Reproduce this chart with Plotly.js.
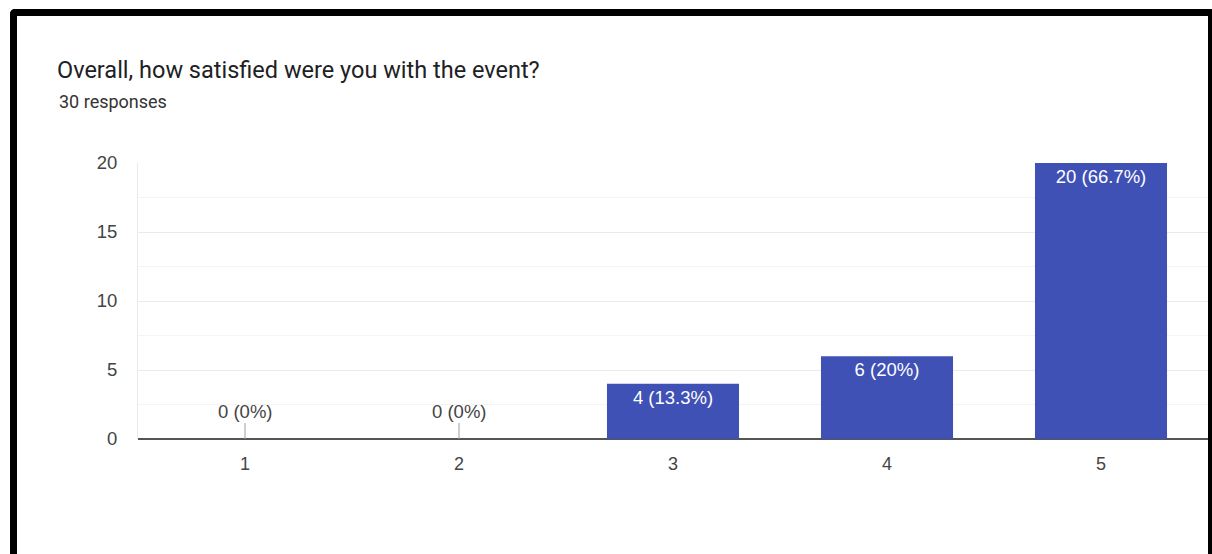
<!DOCTYPE html>
<html>
<head>
<meta charset="utf-8">
<script src="https://cdn.plot.ly/plotly-3.0.1.min.js"></script>
<style>
  html, body { margin: 0; padding: 0; width: 1212px; height: 554px; overflow: hidden; background: #ffffff; }
  #frame { position: absolute; left: 10px; top: 9px; width: 1191px; height: 600px;
           border-top: 7px solid #000; border-left: 7px solid #000; border-right: 7px solid #000;
           border-radius: 5px 5px 0 0; background: #fff; }
  #chart { position: absolute; left: 0; top: 0; width: 1212px; height: 554px; }
</style>
</head>
<body>
<div id="frame"></div>
<div id="chart"></div>
<script>
// ---- data ----
const categories = ["1", "2", "3", "4", "5"];
const counts = [0, 0, 4, 6, 20];
const totalResponses = 30;
const titleText = "Overall, how satisfied were you with the event?";
const subtitleText = totalResponses + " responses";
const yTickValues = [0, 5, 10, 15, 20];

function pctLabel(v) {
  const p = Math.round(v / totalResponses * 1000) / 10;
  return v + " (" + p + "%)";
}
const labels = counts.map(pctLabel);

const barColor = "#3f51b5";
const labelFont = "Liberation Sans, Arial, sans-serif";

const trace = {
  type: "bar",
  x: categories,
  y: counts,
  marker: { color: barColor, line: { width: 0 } },
  text: counts.map((v, i) => v > 0 ? labels[i] : ""),
  textposition: "inside",
  insidetextanchor: "end",
  textangle: 0,
  insidetextfont: { family: labelFont, size: 18.5, color: "#ffffff" },
  hoverinfo: "none",
  cliponaxis: false
};

const annotations = [];
counts.forEach((v, i) => {
  if (v === 0) {
    annotations.push({
      x: i, y: v, xref: "x", yref: "y",
      text: labels[i], showarrow: true, ax: 0, ay: -28,
      arrowhead: 0, arrowwidth: 1, arrowcolor: "#9e9e9e", standoff: 0,
      font: { family: labelFont, size: 18.5, color: "#444444" }
    });
  }
});
annotations.push({
  xref: "paper", yref: "paper", x: 0, y: (439 - 102) / 276,
  xanchor: "left", yanchor: "middle",
  xshift: 57 - 138,
  text: subtitleText, showarrow: false,
  font: { family: "Roboto, sans-serif", size: 18, color: "#333333" }
});

const layout = {
  width: 1212, height: 554,
  margin: { l: 138, r: 4, t: 163, b: 115, pad: 0 },
  paper_bgcolor: "rgba(0,0,0,0)",
  plot_bgcolor: "rgba(0,0,0,0)",
  showlegend: false,
  bargap: 0.383,
  title: {
    text: titleText,
    font: { family: "Roboto, sans-serif", size: 23.5, color: "#202124" },
    xref: "container", yref: "container",
    x: 57 / 1212, xanchor: "left",
    y: 1 - 70 / 554, yanchor: "middle"
  },
  xaxis: {
    type: "category",
    range: [-0.5, 4.5],
    showgrid: false,
    showline: false,
    zeroline: false,
    ticks: "",
    ticklabelstandoff: 12,
    tickfont: { family: labelFont, size: 18, color: "#444444" },
    fixedrange: true
  },
  yaxis: {
    range: [0, 20],
    tickvals: yTickValues,
    showgrid: true,
    gridcolor: "#ebebeb",
    gridwidth: 1,
    minor: { dtick: 2.5, showgrid: true, gridcolor: "#f4f4f4", gridwidth: 1 },
    showline: true,
    linecolor: "#ebebeb",
    linewidth: 1,
    zeroline: true,
    zerolinecolor: "#555555",
    zerolinewidth: 2,
    ticks: "",
    ticklabelstandoff: 16,
    tickfont: { family: labelFont, size: 18.5, color: "#444444" },
    fixedrange: true
  },
  annotations: annotations
};

Plotly.newPlot("chart", [trace], layout, { displayModeBar: false, staticPlot: true });
</script>
</body>
</html>
